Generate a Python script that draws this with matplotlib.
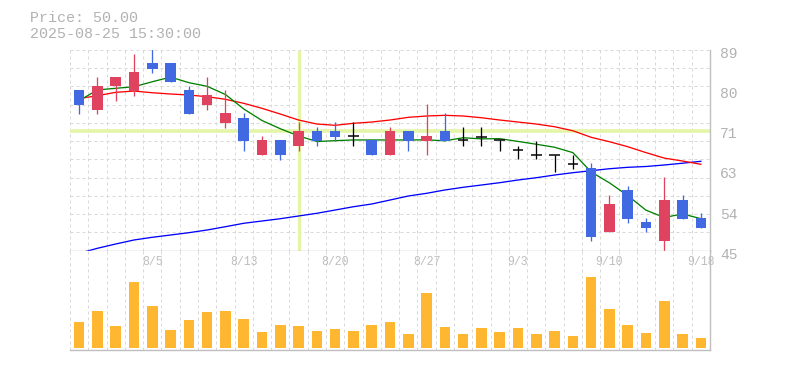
import matplotlib
matplotlib.use("Agg")
import matplotlib.pyplot as plt
import matplotlib.transforms as mtransforms
import numpy as np

# ---------------- data ----------------
dates = ["7/30", "7/31", "8/1", "8/4", "8/5", "8/6", "8/7", "8/8", "8/12", "8/13",
         "8/14", "8/15", "8/18", "8/19", "8/20", "8/21", "8/22", "8/25", "8/26", "8/27",
         "8/28", "8/29", "9/1", "9/2", "9/3", "9/4", "9/5", "9/8", "9/9", "9/10",
         "9/11", "9/12", "9/16", "9/17", "9/18"]

opens = [80.2, 75.8, 81.0, 80.0, 86.1, 86.1, 80.2, 76.9, 73.1, 74.1,
         66.0, 69.3, 68.0, 71.2, 71.2, 70.1, 69.3, 66.0, 71.2, 69.1,
         71.2, 69.3, 70.0, 69.3, 67.1, 66.0, 66.0, 64.1, 63.2, 49.2,
         58.3, 51.3, 47.2, 56.1, 52.2]
highs = [80.2, 83.1, 83.1, 88.1, 89.2, 86.1, 81.1, 83.1, 80.2, 75.2,
         70.1, 69.3, 73.3, 72.1, 73.3, 73.3, 69.3, 72.1, 71.2, 77.2,
         75.2, 72.1, 72.1, 69.3, 68.0, 69.1, 66.0, 66.0, 64.2, 57.2,
         59.2, 52.2, 61.2, 57.2, 53.3]
lows = [75.0, 75.0, 77.8, 78.9, 84.0, 82.0, 75.0, 75.8, 71.9, 66.9,
        66.0, 64.9, 66.9, 68.0, 69.1, 68.0, 66.0, 66.0, 66.9, 66.0,
        69.1, 68.0, 68.0, 66.9, 65.0, 65.0, 62.2, 63.0, 47.2, 49.2,
        51.1, 49.2, 45.0, 52.0, 50.0]
closes = [76.9, 81.1, 83.1, 84.2, 84.9, 82.0, 75.0, 79.1, 75.2, 69.1,
          69.3, 66.0, 71.2, 69.1, 70.0, 70.1, 66.0, 71.2, 69.1, 70.1,
          69.1, 69.3, 70.0, 69.3, 67.1, 66.0, 66.0, 64.1, 48.1, 55.2,
          52.0, 50.0, 56.1, 52.0, 50.0]
volumes = [26000, 37000, 22000, 66000, 42000, 18000, 28000, 36000, 37000, 29000,
           16000, 23000, 22000, 17000, 19000, 17000, 23000, 26000, 14000, 55000,
           21000, 14000, 20000, 16000, 20000, 14000, 17000, 12000, 71000, 39000,
           23000, 15000, 47000, 14000, 10000]

ma_short = [77.9, 80.25, 80.6, 80.95, 82.04, 83.06, 81.84, 81.04, 79.24, 76.08,
            73.54, 71.74, 70.16, 68.94, 69.12, 69.28, 69.28, 69.28, 69.28, 69.3,
            69.1, 69.76, 69.52, 69.56, 68.96, 68.34, 67.68, 66.5, 62.26, 59.88,
            57.08, 53.88, 52.28, 53.06, 52.02]
ma_mid = [78.36, 78.98, 79.72, 80.0, 79.63, 79.35, 79.13, 78.76, 78.19, 77.31,
          76.21, 74.96, 73.65, 72.77, 72.49, 72.93, 73.21, 73.65, 74.24, 74.53,
          74.68, 74.53, 74.15, 73.65, 73.21, 72.77, 72.18, 71.30, 69.86, 68.89,
          67.80, 66.50, 65.30, 64.66, 63.94]
ma_long = [44.43, 45.53, 46.47, 47.35, 47.94, 48.44, 48.95, 49.54, 50.26, 51.01,
           51.51, 52.01, 52.61, 53.20, 53.92, 54.64, 55.24, 56.11, 56.99, 57.58,
           58.31, 58.90, 59.40, 59.91, 60.50, 61.00, 61.59, 62.10, 62.54, 62.97,
           63.28, 63.46, 63.79, 64.18, 64.60]

date_ticks = ["8/5", "8/13", "8/20", "8/27", "9/3", "9/10", "9/18"]
price_ticks = [45, 53.8, 62.6, 71.4, 80.2, 89]
price_tick_labels = ["45", "54", "63", "71", "80", "89"]
price_min, price_max = 45, 89
header_price = "Price: 50.00"
header_time = "2025-08-25 15:30:00"
crosshair_index = 12
crosshair_price = 71.24

# ---------------- style ----------------
FONT = "Liberation Mono"
UP = "#e0435f"
DOWN = "#4169e1"
FLAT = "#000000"
VOL = "#ffb732"
GRID = "#d9d9d9"
SPINE = "#bebebe"
CROSS = "#e4f5a8"
TXT = "#b2b2b2"
PX = 0.72  # one pixel in points at dpi 100

W, H = 785, 370
fig = plt.figure(figsize=(W / 100, H / 100), dpi=100)
fig.patch.set_facecolor("white")

left, right = 70, 710
p_top, p_bot = 50, 250.7
v_bot = 350
ax = fig.add_axes([left / W, 1 - p_bot / H, (right - left) / W, (p_bot - p_top) / H])
axv = fig.add_axes([left / W, 1 - v_bot / H, (right - left) / W, (v_bot - p_bot) / H])

n = len(closes)
x = np.arange(n)

for a in (ax, axv):
    a.set_xlim(-0.5, n - 0.5)
    a.set_facecolor("white")
    for s in ("top", "left"):
        a.spines[s].set_visible(False)
    for s in ("right", "bottom"):
        a.spines[s].set_color(SPINE)
        a.spines[s].set_linewidth(1.4 * PX)
        a.spines[s].set_zorder(6)
    a.set_xticks([])
    # vertical dashed grid at slot boundaries
    for b in np.arange(-0.5, n - 0.4, 1.0)[:-1]:
        a.axvline(b, color=GRID, lw=1 * PX, ls=(0, (3, 3)), zorder=0.5)
axv.spines["top"].set_visible(False)

# ---------- price panel ----------
ax.set_ylim(price_min, price_max)
for g in np.arange(price_min, price_max + 0.1, 4):
    ax.axhline(g, color=GRID, lw=1 * PX, ls=(0, (3, 3)), zorder=0.5)

# crosshair
ax.axvline(crosshair_index, ymin=0.008, ymax=0.992, color=CROSS, lw=3.3 * PX, zorder=1)
ax.axhline(crosshair_price, color=CROSS, lw=3.6 * PX, zorder=1)

# moving averages
ax.plot(x, ma_long, color="#0000ff", lw=1.3 * PX, zorder=2, clip_on=False)
ax.plot(x, ma_mid, color="#ff0000", lw=1.3 * PX, zorder=2)
ax.plot(x, ma_short, color="#008000", lw=1.3 * PX, zorder=2)

# candles
bw = 0.58
for i in range(n):
    o, h, l, c = opens[i], highs[i], lows[i], closes[i]
    if c > o:
        col = UP
    elif c < o:
        col = DOWN
    else:
        col = FLAT
    ax.vlines(x[i], l, h, color=col, lw=1.3 * PX, zorder=3)
    if col == FLAT:
        ax.hlines(c, x[i] - bw / 2, x[i] + bw / 2, color=col, lw=1.5 * PX, zorder=4)
    else:
        ax.bar(x[i], abs(c - o), bottom=min(o, c), width=bw, color=col,
               linewidth=0, zorder=4)

ax.yaxis.tick_right()
ax.set_yticks(price_ticks)
ax.set_yticklabels(price_tick_labels)
ax.tick_params(axis="y", length=0, pad=10 * PX, labelsize=10.5, labelcolor=TXT)
off = mtransforms.ScaledTranslation(0, -2.5 / 100, fig.dpi_scale_trans)
for lab in ax.get_yticklabels():
    lab.set_fontfamily(FONT)
    lab.set_transform(lab.get_transform() + off)

# ---------- volume panel ----------
axv.bar(x, volumes, width=bw, color=VOL, linewidth=0, zorder=3)
axv.set_ylim(-1500, 97300)
axv.set_yticks([])
for lbl in date_ticks:
    i = dates.index(lbl)
    axv.text(x[i], 0.883, lbl, transform=axv.get_xaxis_transform(), ha="center",
             va="center", fontsize=8.3, color="#bdbdbd", family=FONT, zorder=2)

# ---------- header ----------
fig.text(30 / W, 1 - 18 / H, header_price, fontsize=10.8, color=TXT, family=FONT,
         ha="left", va="center")
fig.text(30 / W, 1 - 33.5 / H, header_time, fontsize=10.8, color=TXT, family=FONT,
         ha="left", va="center")

fig.savefig("out.png", dpi=100, facecolor="white")
